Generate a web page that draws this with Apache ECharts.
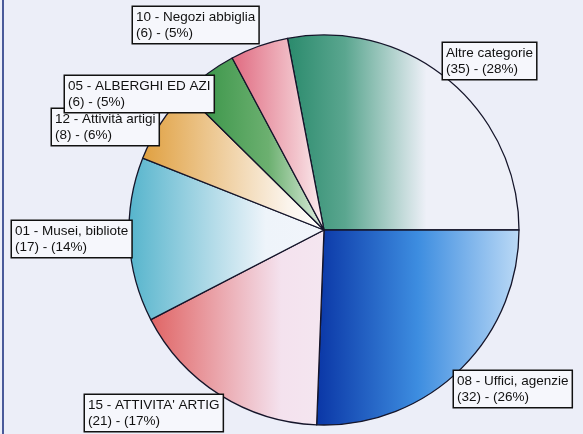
<!DOCTYPE html>
<html>
<head>
<meta charset="utf-8">
<script src="https://cdn.jsdelivr.net/npm/echarts@6/dist/echarts.min.js"></script>
<style>
html,body{margin:0;padding:0;background:#eceef8;}
#c{width:583px;height:434px;}
</style>
</head>
<body>
<div id="c"></div>
<script>
var categories = ["Altre categorie","08 - Uffici, agenzie","15 - ATTIVITA' ARTIG","01 - Musei, bibliote","12 - Attività artigi","05 - ALBERGHI ED AZI","10 - Negozi abbiglia"];
var values = [35, 32, 21, 17, 8, 6, 6];
var colorStops = [
  [[0,'#2a8a6c'],[0.25,'#5aa68f'],[0.6,'#eef0f8'],[1,'#eef0f8']],
  [[0,'#0a36a6'],[0.5,'#3d8de0'],[1,'#bcdaf6']],
  [[0,'#e06464'],[0.75,'#f4e2ee'],[1,'#f4e6f0']],
  [[0,'#55b4cc'],[0.7,'#eef4fa'],[1,'#f2f5fb']],
  [[0,'#e0a040'],[0.8,'#fbf4ec'],[1,'#ffffff']],
  [[0,'#2f8f40'],[0.6,'#6cb070'],[1,'#e4f0e4']],
  [[0,'#e06a80'],[0.7,'#f2c4cc'],[1,'#fbf0f2']]
];
var labelBoxes = [[443,43],[454,371],[85,395],[12,221],[52,109],[65,76],[133,7]];

var total = values.reduce(function(a,b){return a+b;},0);
var data = categories.map(function(n,i){
  return {
    name:n, value:values[i],
    itemStyle:{color:{type:'linear',x:0,y:0,x2:1,y2:0,colorStops:colorStops[i].map(function(s){return {offset:s[0],color:s[1]};})}}
  };
});
var chart = echarts.init(document.getElementById('c'));
chart.setOption({
  backgroundColor:'#eceef8',
  animation:false,
  graphic:[{type:'rect',shape:{x:2,y:0,width:2,height:434},style:{fill:'#4a5a9a'}}],
  series:[{
    type:'pie',
    center:[324,230],
    radius:195,
    startAngle:100.8,
    clockwise:true,
    data:data,
    itemStyle:{borderColor:'#15152a',borderWidth:1.3},
    label:{
      show:true,
      position:'inside',
      rotate:0,
      formatter:function(p){return p.name+'\n('+p.value+') - ('+Math.round(p.value/total*100)+'%)';},
      fontFamily:'Liberation Sans, Arial, sans-serif',
      fontSize:13.5,
      lineHeight:16,
      color:'#111',
      backgroundColor:'#f6f7fc',
      borderColor:'#111',
      borderWidth:1.5,
      padding:[2,3,2,3],
      align:'left',
      verticalAlign:'top',
      overflow:'none'
    },
    labelLine:{show:false},
    labelLayout:function(p){
      var b = labelBoxes[p.dataIndex];
      return {x:b[0],y:b[1],align:'left',verticalAlign:'top',moveOverlap:false,hideOverlap:false};
    },
    emphasis:{disabled:true}
  }]
});
</script>
</body>
</html>
